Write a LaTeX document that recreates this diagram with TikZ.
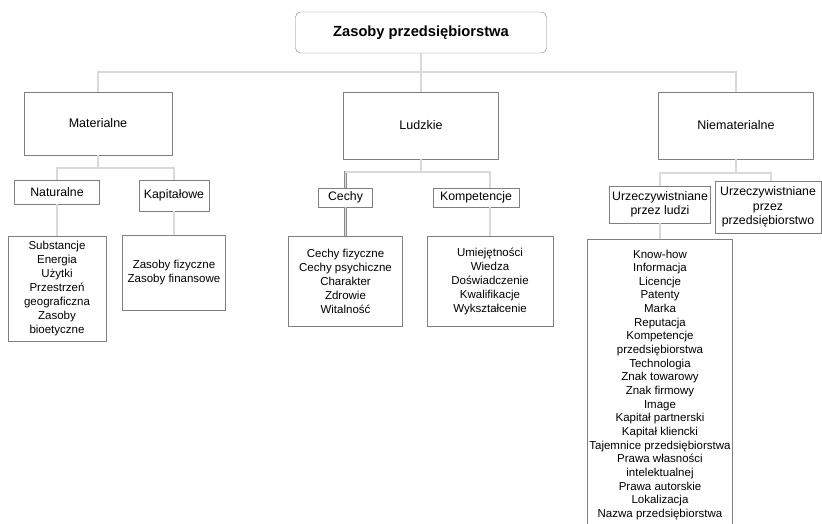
\documentclass[tikz,border=0pt]{standalone}
\usepackage{fontspec}
\setmainfont{Liberation Sans}

\begin{document}
\begin{tikzpicture}[
    x=1pt, y=-1pt,
    topbox/.style={rectangle, draw=gray, rounded corners=5pt, minimum width=251pt, minimum height=41pt, font=\bfseries\fontsize{14.7}{17}\selectfont},
    mainbox/.style={rectangle, draw=gray, minimum width=155pt, minimum height=67pt, font=\fontsize{12.5}{15}\selectfont},
    subbox/.style={rectangle, draw=gray, inner sep=0pt, align=center, font=\fontsize{12.3}{14.3}\selectfont},
    listbox/.style={rectangle, draw=gray, inner sep=0pt, align=center, font=\fontsize{11.5}{14}\selectfont},
    conn/.style={draw=gray!90, double=gray!30, double distance=1.2pt, line width=0.7pt}
]
\useasboundingbox (0,0) rectangle (822,523);
\clip (0,0) rectangle (822,523);

% Korzen i poziom 1
\node[topbox] (top) at (421,32.5) {Zasoby przedsiębiorstwa};
\node[mainbox, minimum width=148pt, minimum height=63pt] (mat) at (98,123.5) {Materialne};
\node[mainbox] (lud) at (421,125.5) {Ludzkie};
\node[mainbox] (niem) at (736,125.5) {Niematerialne};

% Materialne
\node[subbox, minimum width=85pt, minimum height=24pt] (nat) at (57,192) {Naturalne};
\node[subbox, minimum width=70pt, minimum height=31pt] (kap) at (174,195.5) {Kapitałowe};
\node[listbox, minimum width=98pt, minimum height=105pt] (natl) at (57,288.5) {Substancje\\Energia\\Użytki\\Przestrzeń\\geograficzna\\Zasoby\\bioetyczne};
\node[listbox, minimum width=103pt, minimum height=75pt] (kapl) at (174,272.5) {Zasoby fizyczne\\Zasoby finansowe};

% Ludzkie
\node[subbox, minimum width=54pt, minimum height=19pt] (cech) at (345.5,197.5) {Cechy};
\node[subbox, minimum width=86pt, minimum height=19pt] (komp) at (476,197.5) {Kompetencje};
\node[listbox, minimum width=114pt, minimum height=90pt] (cechl) at (345.5,281) {Cechy fizyczne\\Cechy psychiczne\\Charakter\\Zdrowie\\Witalność};
\node[listbox, minimum width=126pt, minimum height=90pt] (kompl) at (490,281) {Umiejętności\\Wiedza\\Doświadczenie\\Kwalifikacje\\Wykształcenie};

% Niematerialne
\node[subbox, minimum width=101pt, minimum height=37pt] (uzl) at (660,204.5) {Urzeczywistniane\\przez ludzi};
\node[subbox, minimum width=106pt, minimum height=52pt] (uzp) at (768,207) {Urzeczywistniane\\przez\\przedsiębiorstwo};
\node[listbox, font=\fontsize{11.5}{13.65}\selectfont, anchor=north, minimum width=145pt, minimum height=291pt, inner ysep=4pt] (big) at (660,239)
  {Know-how\\Informacja\\Licencje\\Patenty\\Marka\\Reputacja\\Kompetencje\\przedsiębiorstwa\\Technologia\\Znak towarowy\\Znak firmowy\\Image\\Kapitał partnerski\\Kapitał kliencki\\Tajemnice przedsiębiorstwa\\Prawa własności\\intelektualnej\\Prawa autorskie\\Lokalizacja\\Nazwa przedsiębiorstwa};

% Polaczenia
\coordinate (j0) at (421,72);
\coordinate (j1) at (98,168);
\coordinate (j2) at (421,172);
\coordinate (j3) at (736,173);
\draw[conn] (mat.north) |- (j0) -| (niem.north) (top.south) -- (lud.north);
\draw[conn] (nat.north) |- (j1) -| (kap.north) (mat.south) -- (j1);
\draw[conn] (nat.south) -- (natl.north);
\draw[conn] (kap.south) -- (kapl.north);
\draw[conn] (cech.north) |- (j2) -| (kompl.north |- komp.north) (lud.south) -- (j2);
\draw[conn] (cech.south) -- (cechl.north);
\draw[conn] (kompl.north |- komp.south) -- (kompl.north);
\draw[conn] (uzl.north) |- (j3) -| ([xshift=3pt]uzp.north) (niem.south) -- (j3);
\draw[conn] (uzl.south) -- (big.north);

\end{tikzpicture}
\end{document}
